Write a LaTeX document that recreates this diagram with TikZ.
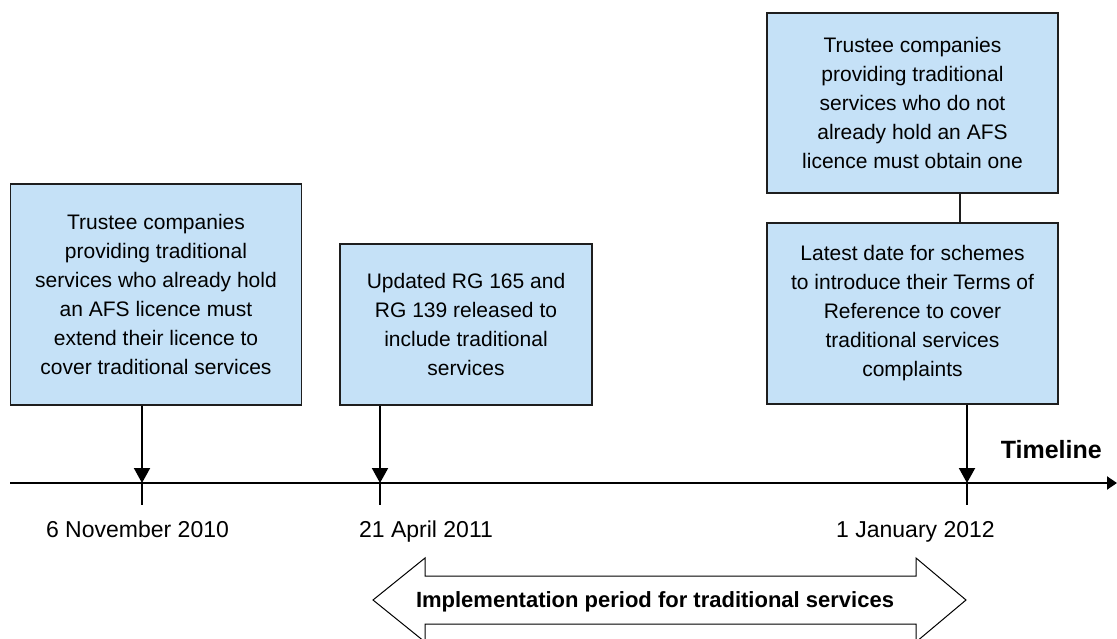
\documentclass[tikz,border=0pt]{standalone}
\usepackage{fontspec}
\setmainfont{Liberation Sans}
\usetikzlibrary{arrows.meta}
\definecolor{boxfill}{RGB}{197,225,247}
\definecolor{boxline}{RGB}{30,30,30}
\tikzset{
  event/.style={draw=boxline, line width=1.5pt, fill=boxfill, align=center,
    inner sep=0pt, font=\fontsize{21}{29}\selectfont},
  datelabel/.style={anchor=base, inner sep=0pt, font=\fontsize{23}{27}\selectfont},
  pointer/.style={line width=2pt, -{Triangle[width=16pt,length=15pt]}},
  tick/.style={line width=1.4pt},
}
\begin{document}
\begin{tikzpicture}[x=1pt,y=-1pt]
\useasboundingbox (0,0) rectangle (1117,639);
% boxes
\node[event, minimum width=291pt, minimum height=221pt] (b1) at (156,294.5)
  {Trustee companies\\providing traditional\\services who already hold\\an AFS licence must\\extend their licence to\\cover traditional services};
\node[event, minimum width=252pt, minimum height=161pt] (b2) at (466,324.5)
  {Updated RG 165 and\\RG 139 released to\\include traditional\\services};
\node[event, minimum width=291pt, minimum height=180pt] (b3) at (912.5,103)
  {Trustee companies\\providing traditional\\services who do not\\already hold an AFS\\licence must obtain one};
\node[event, minimum width=291pt, minimum height=181pt] (b4) at (912.5,313.5)
  {Latest date for schemes\\to introduce their Terms of\\Reference to cover\\traditional services\\complaints};
% axis
\coordinate (axL) at (10,483);
\coordinate (axR) at (1117,483);
\draw[line width=2pt, -{Triangle[width=13pt,length=10pt]}] (axL) -- (axR);
\coordinate (t1) at (142,483);
\coordinate (t2) at (380,483);
\coordinate (t3) at (967,483);
\coordinate (k1) at (142,505);
\coordinate (k2) at (380,505);
\coordinate (k3) at (967,505);
\draw[tick] (t1) -- (k1);
\draw[tick] (t2) -- (k2);
\draw[tick] (t3) -- (k3);
\draw[pointer] (b1.south -| t1) -- (t1);
\draw[pointer] (b2.south -| t2) -- (t2);
\draw[pointer] (b4.south -| t3) -- (t3);
\coordinate (cx) at (960,0);
\draw[line width=1.3pt, boxline] (b3.south -| cx) -- (b4.north -| cx);
% labels
\node[datelabel] (d1) at (137.5,537) {6 November 2010};
\node[datelabel] (d2) at (426,537) {21 April 2011};
\node[datelabel] (d3) at (915.5,537) {1 January 2012};
\node[anchor=base east, inner sep=0pt, font=\fontsize{25}{29}\selectfont\bfseries] (tl) at (1102,458) {Timeline};
% double arrow
\draw[line width=1pt, fill=white] (373,600) -- (425,558) -- (425,576) -- (916,576) -- (916,558)
  -- (966,600) -- (916,642) -- (916,624) -- (425,624) -- (425,642) -- cycle;
\node[anchor=base, inner sep=0pt, font=\fontsize{22}{26}\selectfont\bfseries] (impl) at (655,607)
  {Implementation period for traditional services};
\end{tikzpicture}
\end{document}
